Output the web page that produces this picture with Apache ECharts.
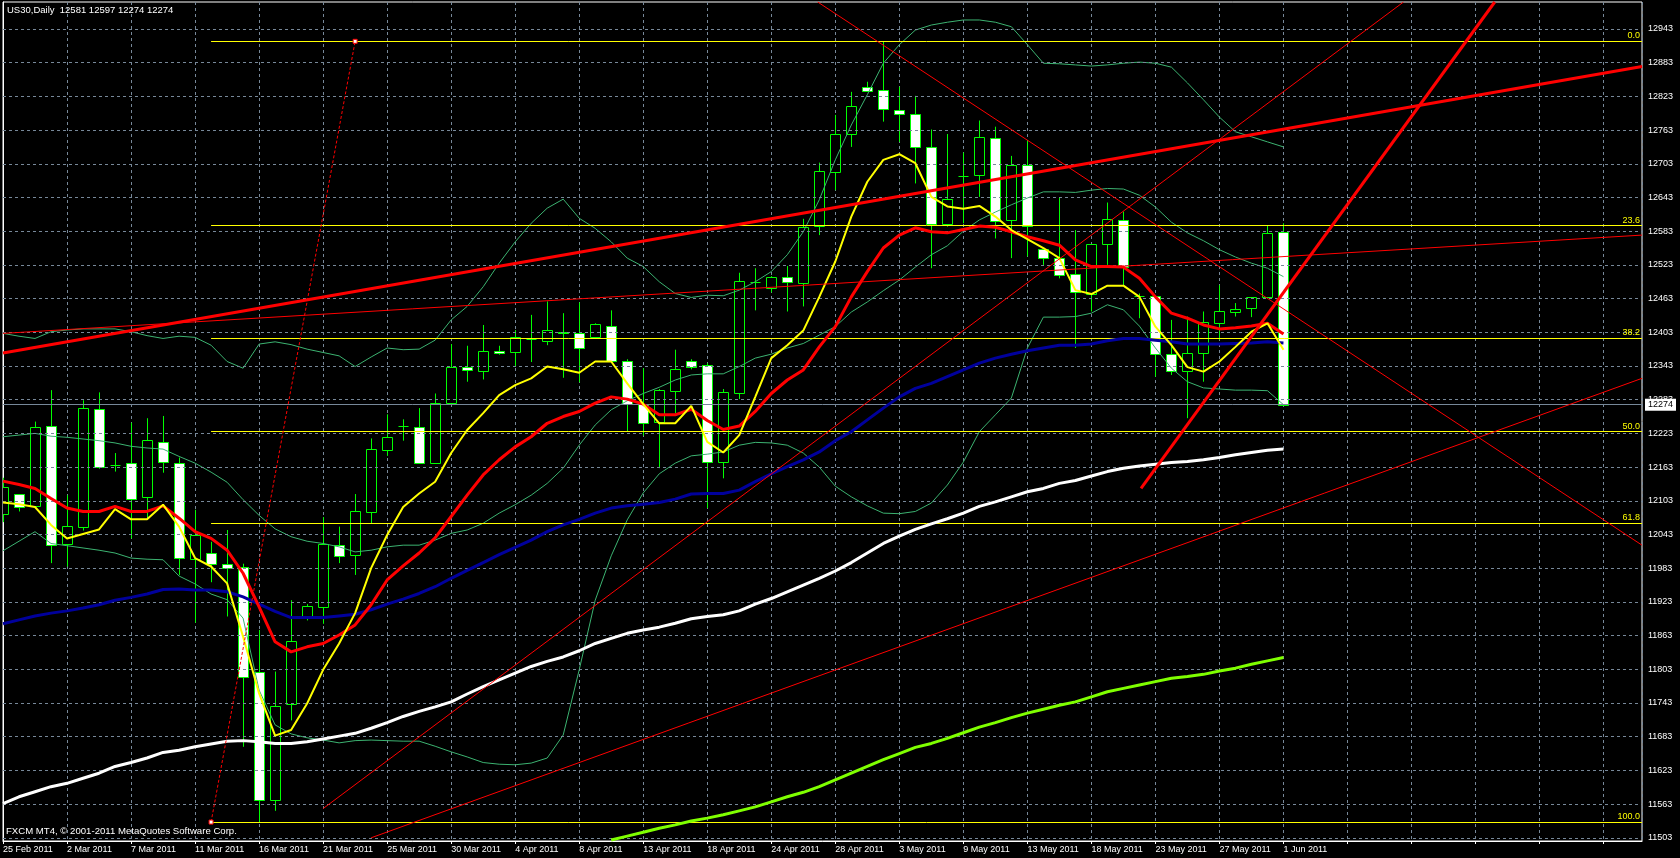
<!DOCTYPE html>
<html>
<head>
<meta charset="utf-8">
<title>US30,Daily</title>
<script src="https://cdn.jsdelivr.net/npm/echarts@6/dist/echarts.min.js"></script>
<style>
  html, body { margin: 0; padding: 0; background: #000; }
  #chart { width: 1680px; height: 858px; }
</style>
</head>
<body>
<div id="chart"></div>
<script>
// bar dates (FXCM daily, Sunday bars included)
const dates = ['25 Feb 2011','27 Feb 2011','28 Feb 2011','1 Mar 2011','2 Mar 2011','3 Mar 2011','4 Mar 2011','6 Mar 2011','7 Mar 2011','8 Mar 2011',
  '9 Mar 2011','10 Mar 2011','11 Mar 2011','13 Mar 2011','14 Mar 2011','15 Mar 2011','16 Mar 2011','17 Mar 2011','18 Mar 2011','20 Mar 2011',
  '21 Mar 2011','22 Mar 2011','23 Mar 2011','24 Mar 2011','25 Mar 2011','27 Mar 2011','28 Mar 2011','29 Mar 2011','30 Mar 2011','31 Mar 2011',
  '1 Apr 2011','3 Apr 2011','4 Apr 2011','5 Apr 2011','6 Apr 2011','7 Apr 2011','8 Apr 2011','10 Apr 2011','11 Apr 2011','12 Apr 2011',
  '13 Apr 2011','14 Apr 2011','15 Apr 2011','17 Apr 2011','18 Apr 2011','19 Apr 2011','20 Apr 2011','21 Apr 2011','24 Apr 2011','25 Apr 2011',
  '26 Apr 2011','27 Apr 2011','28 Apr 2011','29 Apr 2011','1 May 2011','2 May 2011','3 May 2011','4 May 2011','5 May 2011','6 May 2011',
  '9 May 2011','10 May 2011','11 May 2011','12 May 2011','13 May 2011','15 May 2011','16 May 2011','17 May 2011','18 May 2011','19 May 2011',
  '20 May 2011','22 May 2011','23 May 2011','24 May 2011','25 May 2011','26 May 2011','27 May 2011','29 May 2011','30 May 2011','31 May 2011',
  '1 Jun 2011'];

const openP = [12080,12115,12093,12236,12026,12057,12266,12167,12170,12109,
  12208,12171,11999,12010,11991,11985,11798,11570,11741,11897,
  11914,12024,12007,12083,12193,12236,12235,12171,12277,12341,
  12334,12370,12367,12391,12388,12404,12402,12394,12415,12352,
  12275,12244,12298,12352,12344,12172,12294,12493,12481,12502,
  12490,12592,12688,12756,12839,12834,12798,12791,12733,12595,
  12682,12683,12748,12602,12701,12551,12535,12506,12472,12560,
  12603,12468,12468,12364,12334,12366,12420,12439,12446,12465,
  12581];
const closeP = [12128,12092,12234,12024,12058,12268,12163,12167,12107,12211,
  12172,12001,12042,11991,11983,11789,11570,11738,11854,11916,
  12026,12004,12084,12195,12217,12236,12170,12277,12342,12336,
  12369,12366,12395,12391,12407,12401,12375,12417,12352,12275,
  12242,12300,12338,12341,12172,12296,12495,12493,12501,12492,
  12591,12690,12756,12805,12833,12800,12792,12733,12596,12640,
  12682,12750,12601,12701,12593,12535,12505,12474,12560,12604,
  12520,12468,12364,12334,12366,12421,12440,12444,12465,12579,
  12274];
const lowP = [12065,12084,12090,11992,11986,12050,12160,12155,12036,12069,
  12153,11971,11886,11958,11897,11665,11531,11551,11712,11890,
  11884,11992,11971,12063,12183,12210,12169,12170,12275,12315,
  12319,12363,12342,12350,12380,12322,12314,12392,12350,12227,
  12219,12161,12259,12337,12090,12143,12284,12442,12474,12440,
  12449,12576,12656,12733,12832,12778,12742,12668,12517,12591,
  12597,12644,12570,12535,12538,12523,12499,12375,12440,12523,
  12487,12428,12324,12327,12250,12315,12389,12431,12430,12465,
  12274];
const highP = [12144,12115,12244,12300,12113,12282,12296,12188,12242,12250,
  12254,12180,12087,12030,12051,11991,11873,11799,11926,11919,
  12074,12057,12115,12214,12257,12248,12268,12294,12382,12379,
  12416,12379,12407,12434,12458,12437,12456,12419,12442,12355,
  12339,12302,12372,12355,12348,12302,12509,12517,12503,12521,
  12605,12705,12790,12831,12849,12921,12840,12824,12764,12756,
  12723,12780,12769,12717,12745,12551,12642,12585,12560,12634,
  12618,12472,12468,12425,12431,12440,12487,12455,12465,12594,
  12597];

// moving averages
const maYellow = [12100,12097,12092,12060,12036,12044,12052,12088,12070,12070,
  12096,12057,12001,11986,11956,11861,11760,11685,11695,11742,
  11802,11849,11903,11983,12042,12092,12116,12137,12188,12229,
  12259,12291,12309,12321,12342,12337,12331,12351,12351,12312,
  12275,12241,12241,12272,12208,12189,12220,12288,12357,12380,
  12406,12466,12529,12609,12671,12710,12720,12704,12644,12627,
  12623,12628,12609,12585,12569,12553,12535,12478,12471,12486,
  12486,12466,12413,12380,12341,12333,12351,12377,12404,12419,
  12372];
const maRed = [12138,12132,12125,12107,12090,12084,12084,12093,12084,12084,
  12094,12072,12048,12036,12015,11974,11914,11852,11834,11843,
  11849,11864,11882,11918,11962,11987,12010,12037,12075,12113,
  12149,12176,12199,12217,12241,12253,12262,12277,12288,12284,
  12275,12256,12256,12266,12246,12230,12236,12262,12294,12318,
  12336,12377,12413,12466,12511,12553,12576,12589,12582,12580,
  12586,12592,12590,12582,12573,12566,12558,12532,12520,12520,
  12519,12499,12466,12437,12428,12416,12409,12411,12414,12419,
  12400];
const maBlue = [11884,11891,11898,11903,11907,11912,11918,11926,11931,11937,
  11945,11946,11944,11944,11941,11932,11919,11906,11895,11895,
  11895,11898,11901,11909,11919,11928,11938,11950,11965,11979,
  11993,12007,12020,12033,12048,12060,12070,12081,12090,12094,
  12097,12100,12106,12115,12116,12116,12122,12137,12151,12164,
  12176,12190,12210,12226,12247,12268,12288,12303,12312,12324,
  12336,12348,12357,12364,12370,12375,12380,12380,12382,12388,
  12392,12392,12389,12386,12382,12382,12382,12383,12384,12386,
  12384];
const maWhite = [11564,11576,11585,11594,11600,11609,11618,11630,11637,11645,
  11655,11659,11665,11670,11675,11676,11674,11671,11671,11674,
  11679,11684,11689,11698,11708,11719,11728,11736,11745,11759,
  11772,11784,11796,11808,11817,11825,11836,11849,11858,11867,
  11873,11878,11885,11893,11897,11900,11907,11919,11929,11941,
  11953,11965,11978,11993,12010,12027,12040,12052,12062,12071,
  12081,12093,12101,12110,12119,12125,12134,12139,12147,12155,
  12161,12165,12168,12171,12173,12176,12180,12185,12189,12193,
  12195];
const maGreenStart = 38;
const maGreen = [11499,11506,11513,11520,11526,11533,11538,11544,11551,11558,
  11567,11576,11584,11594,11606,11618,11630,11642,11653,11664,
  11671,11680,11690,11700,11708,11717,11725,11732,11739,11745,
  11754,11763,11769,11775,11781,11787,11790,11794,11800,11805,
  11812,11818,11824];

// bollinger bands
const bbUpper = [12401,12396,12392,12404,12407,12409,12409,12409,12404,12397,
  12392,12396,12394,12380,12351,12339,12382,12386,12381,12373,
  12367,12361,12342,12359,12375,12372,12373,12389,12425,12449,
  12484,12526,12564,12597,12624,12640,12606,12588,12564,12535,
  12520,12493,12472,12465,12469,12468,12478,12493,12511,12541,
  12582,12639,12710,12772,12826,12882,12915,12941,12950,12955,
  12959,12959,12955,12947,12915,12882,12881,12879,12877,12879,
  12882,12884,12882,12875,12847,12817,12786,12760,12751,12742,
  12733];
const bbMiddle = [12217,12220,12223,12218,12216,12213,12210,12206,12200,12197,
  12195,12182,12170,12154,12136,12105,12077,12053,12039,12031,
  12027,12021,12012,12015,12021,12024,12024,12033,12045,12051,
  12063,12081,12096,12113,12134,12161,12202,12238,12265,12281,
  12294,12305,12318,12327,12329,12329,12342,12357,12364,12375,
  12383,12398,12413,12439,12457,12477,12496,12519,12541,12557,
  12583,12603,12617,12630,12642,12653,12653,12652,12656,12659,
  12658,12647,12626,12599,12580,12566,12550,12537,12526,12517,
  12502];
const bbLower = [12014,12031,12048,12027,12023,12019,12015,12010,12001,11999,
  11998,11969,11955,11937,11927,11894,11766,11704,11688,11681,
  11677,11672,11676,11677,11676,11675,11675,11666,11656,11647,
  11637,11634,11633,11636,11645,11686,11802,11926,12005,12069,
  12117,12151,12170,12183,12186,12190,12202,12207,12206,12202,
  12188,12163,12129,12110,12094,12081,12080,12084,12099,12131,
  12172,12226,12256,12286,12375,12430,12430,12431,12437,12452,
  12443,12414,12375,12339,12315,12304,12302,12300,12300,12299,
  12274];

// drawn objects: [barIndex, price] anchors
const trendThin = [
  [[0, 12401], [102.4, 12576]],
  [[50.9, 12991], [102.4, 12024]],
  [[20.0, 11555], [87.5, 12991]],
  [[23.0, 11503], [102.4, 12321]]
];
const trendThick = [
  [[0, 12366], [102.4, 12876]],
  [[71.1, 12125], [93.2, 12991]]
];
const fibAnchor = [[13, 11531], [22, 12921]];
const fibLevels = ['0.0', '23.6', '38.2', '50.0', '61.8', '100.0'];
const fibPrices = [12921, 12593, 12392, 12226, 12063, 11531];
const bidPrice = 12274;

const yTicks = [11503,11563,11623,11683,11743,11803,11863,11923,11983,12043,12103,12163,12223,
  12283,12343,12403,12463,12523,12583,12643,12703,12763,12823,12883,12943];

const yMin = 11497.3, yMax = 12991, xMax = 102.4;
const FONT = '"Liberation Sans", Arial, sans-serif';
const GRIDC = '#778899';

const candleData = openP.map((o, i) => [i, o, closeP[i], lowP[i], highP[i]]);

function renderCandle(params, api) {
  const i = api.value(0);
  const o = api.value(1), c = api.value(2), l = api.value(3), h = api.value(4);
  const pO = api.coord([i, o]);
  const pC = api.coord([i, c]);
  const pL = api.coord([i, l]);
  const pH = api.coord([i, h]);
  const x = Math.round(pO[0]) + 0.5;
  const top = Math.round(Math.min(pO[1], pC[1])) + 0.5;
  const bot = Math.round(Math.max(pO[1], pC[1])) + 0.5;
  const kids = [{
    type: 'line',
    shape: { x1: x, y1: pH[1], x2: x, y2: pL[1] },
    style: { stroke: '#00ff00', lineWidth: 1 }
  }];
  if (bot - top < 1) {
    kids.push({ type: 'line', shape: { x1: x - 5, y1: top, x2: x + 5, y2: top },
      style: { stroke: '#00ff00', lineWidth: 1 } });
  } else {
    kids.push({ type: 'rect', shape: { x: x - 5, y: top, width: 10, height: bot - top },
      style: { fill: c < o ? '#ffffff' : '#000000', stroke: '#00ff00', lineWidth: 1 } });
  }
  return { type: 'group', children: kids };
}

function lineSeries(values, start, color, width, z) {
  return {
    type: 'line', data: values.map((v, k) => [start + k, v]),
    symbol: 'none', silent: true, clip: true, z: z,
    lineStyle: { color: color, width: width }
  };
}

function segSeries(seg, color, width, z) {
  return {
    type: 'line', data: seg, symbol: 'none', silent: true, clip: true, z: z,
    lineStyle: { color: color, width: width }
  };
}

const series = [
  {
    // horizontal grid
    type: 'line', data: [[0, yTicks[0]]], symbol: 'none', silent: true, z: 1,
    lineStyle: { width: 0 },
    markLine: {
      silent: true, symbol: 'none', label: { show: false },
      lineStyle: { color: GRIDC, type: [3, 3], width: 1 },
      data: yTicks.map(v => ({ yAxis: v }))
    }
  },
  { type: 'custom', renderItem: renderCandle, data: candleData, clip: true, z: 3,
    encode: { x: 0, y: [1, 2, 3, 4] } },
  lineSeries(bbUpper, 0, '#3cb371', 1, 4),
  lineSeries(bbMiddle, 0, '#3cb371', 1, 4),
  lineSeries(bbLower, 0, '#3cb371', 1, 4),
  lineSeries(maGreen, maGreenStart, '#7fff00', 3, 5),
  lineSeries(maWhite, 0, '#ffffff', 3, 5),
  lineSeries(maBlue, 0, '#00009c', 3, 5),
  lineSeries(maRed, 0, '#ff0000', 3, 5),
  lineSeries(maYellow, 0, '#ffff00', 2, 5)
];
trendThin.forEach(s => series.push(segSeries(s, '#ff0000', 1, 6)));
trendThick.forEach(s => series.push(segSeries(s, '#ff0000', 3, 6)));

series.push({
  type: 'line', data: fibAnchor, silent: true, clip: true, z: 7,
  symbol: 'rect', symbolSize: 4, showSymbol: true,
  itemStyle: { color: '#ffffff', borderColor: '#ff0000', borderWidth: 1 },
  lineStyle: { color: '#ff0000', width: 1, type: [3, 2] },
  markLine: {
    silent: true, symbol: 'none',
    lineStyle: { color: '#ffff00', width: 1, type: 'solid' },
    label: { show: true, position: 'insideEndTop', formatter: '{b}', color: '#ffff00',
      fontSize: 9, fontFamily: FONT, distance: [2, 1] },
    data: fibPrices.map((p, k) => [
      { coord: [fibAnchor[0][0], p], name: fibLevels[k] },
      { coord: [xMax, p] }
    ])
  }
});

series.push({
  type: 'line', data: [[0, bidPrice]], symbol: 'none', silent: true, z: 8,
  lineStyle: { width: 0 },
  markLine: {
    silent: true, symbol: 'none',
    lineStyle: { color: GRIDC, type: 'solid', width: 1 },
    label: { show: true, position: 'end', distance: 3, color: '#000', backgroundColor: '#fff',
      padding: [2, 3, 1, 3], fontSize: 9, fontFamily: FONT, formatter: String(bidPrice) },
    data: [{ yAxis: bidPrice }]
  }
});

const chart = echarts.init(document.getElementById('chart'));
chart.setOption({
  backgroundColor: '#000',
  animation: false,
  grid: { left: 3, right: 38, top: 2, bottom: 17, show: true, borderColor: '#ffffff', borderWidth: 1 },
  xAxis: {
    type: 'value', min: 0, max: xMax, interval: 4,
    axisLine: { show: true, lineStyle: { color: '#fff' } },
    axisTick: { show: true, length: 3, lineStyle: { color: '#fff' } },
    axisLabel: {
      color: '#fff', fontSize: 9, fontFamily: FONT, align: 'left', margin: 4,
      showMinLabel: true, showMaxLabel: false,
      formatter: v => (Number.isInteger(v) && v < dates.length) ? dates[v] : ''
    },
    splitLine: { show: true, lineStyle: { color: GRIDC, type: [3, 3], width: 1 } }
  },
  yAxis: {
    type: 'value', position: 'right', min: yMin, max: yMax, scale: true,
    axisLine: { show: true, lineStyle: { color: '#fff' } },
    axisTick: { show: true, length: 3, customValues: yTicks, lineStyle: { color: '#fff' } },
    axisLabel: { customValues: yTicks, color: '#fff', fontSize: 9, fontFamily: FONT, margin: 6,
      formatter: v => String(Math.round(v)) },
    splitLine: { show: false }
  },
  graphic: [
    { type: 'text', left: 7, top: 5, z: 100,
      style: { text: 'US30,Daily  12581 12597 12274 12274', fill: '#fff', font: '9.5px ' + FONT } },
    { type: 'text', left: 6, top: 826, z: 100,
      style: { text: 'FXCM MT4, \u00a9 2001-2011 MetaQuotes Software Corp.', fill: '#fff', font: '9.6px ' + FONT } }
  ],
  series: series
});
</script>
</body>
</html>
